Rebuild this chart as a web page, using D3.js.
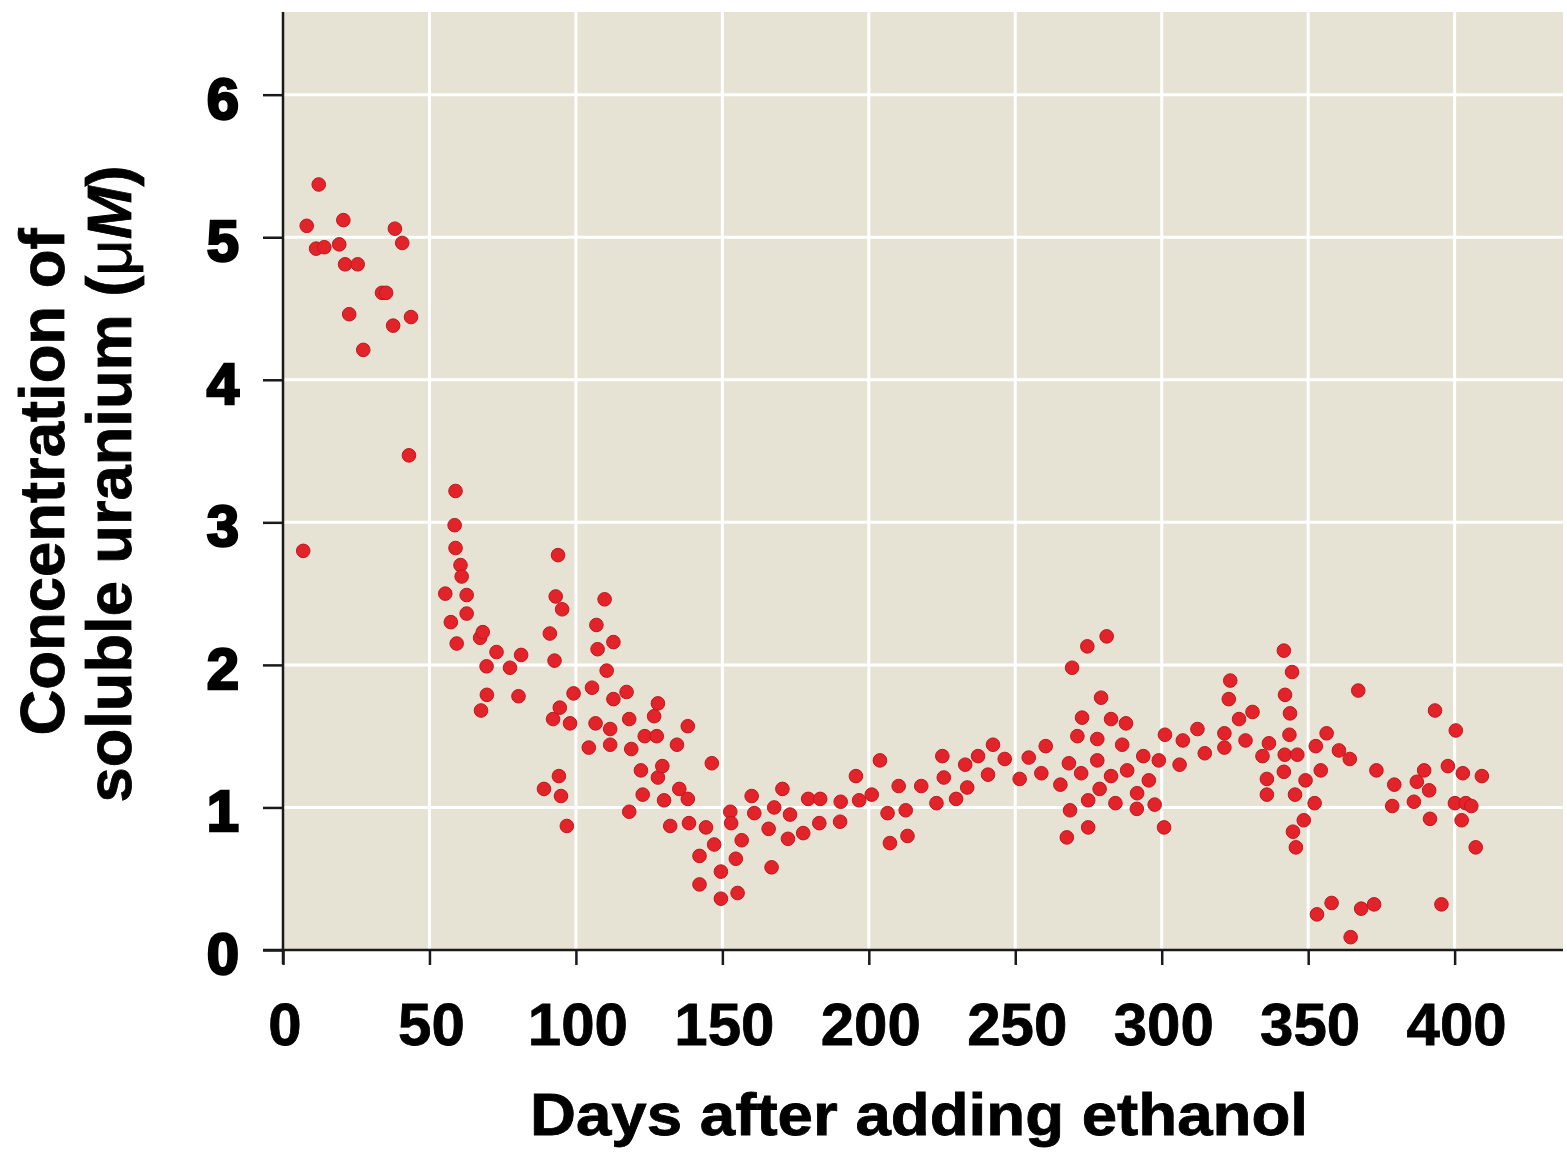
<!DOCTYPE html>
<html>
<head>
<meta charset="utf-8">
<script src="https://cdn.jsdelivr.net/npm/d3@7"></script>
<style>
  html, body { margin: 0; padding: 0; background: #fff; }
  svg text { font-family: "Liberation Sans", Arial, sans-serif; font-weight: bold; fill: #000; }
</style>
</head>
<body>
<svg id="chart" width="1567" height="1154"></svg>
<script>
/// Days after ethanol addition
var days = [
  6.9, 8.1, 11.3, 12.2, 14.1, 19.2, 20.6, 21.2, 22.6, 25.5, 27.4, 33.8, 35.2, 37.6, 38.2, 40.7, 43.0, 43.7,
  55.4, 57.3, 58.6, 58.9, 58.9, 59.3, 60.6, 61.0, 62.7, 62.7, 67.3, 67.6, 68.2, 69.5, 69.6, 72.9, 77.5, 80.4, 81.3,
  89.1, 91.1, 92.2, 92.7, 93.1, 93.9, 94.2, 94.5, 94.9, 95.3, 96.9, 98.0, 99.2,
  104.4, 105.5, 106.7, 107.0, 107.4, 109.8, 110.5, 111.7, 111.7, 112.8, 112.8, 117.3, 118.2, 118.2, 118.9,
  122.2, 122.8, 123.5, 126.7, 127.6, 128.0, 128.0, 129.5, 130.1, 132.2, 134.5, 135.3, 138.2, 138.2, 138.6,
  142.2, 142.2, 144.4, 146.4, 147.2, 149.5, 149.5, 152.7, 153.0, 154.6, 155.2, 156.6,
  160.0, 160.9, 165.8, 166.8, 167.7, 170.5, 172.4, 173.1, 177.6, 179.3, 183.1, 183.4, 190.2, 190.4, 195.6, 196.7,
  201.0, 203.8, 206.4, 207.2, 210.2, 212.6, 213.2, 217.9, 223.1, 225.1, 225.6, 229.8, 232.9, 233.6, 237.3,
  240.7, 242.4, 246.4, 251.5, 254.6, 258.9, 260.4, 265.4, 267.6, 268.3, 268.7, 269.4, 271.2, 272.5, 272.8,
  274.6, 274.9, 274.9, 278.0, 278.0, 278.8, 279.3, 281.2, 282.7, 282.7, 284.2, 286.5, 287.8, 288.2,
  291.5, 291.6, 293.7, 295.6, 297.6, 299.0, 300.8, 301.1, 306.1, 307.2, 312.2, 314.7,
  321.4, 321.4, 322.9, 323.4, 326.4, 328.6, 331.0, 334.4, 335.9, 335.9, 336.6,
  341.7, 341.7, 342.0, 342.1, 343.6, 343.8, 344.5, 344.8, 345.5, 345.8, 346.3, 348.5, 349.1,
  352.2, 352.6, 353.0, 354.3, 356.3, 358.0, 360.5, 364.2, 364.5, 367.1, 368.1, 372.5, 373.3,
  378.7, 379.4, 386.1, 387.1, 389.6, 391.3, 391.6, 393.3, 395.5, 397.7,
  400.1, 400.4, 402.4, 402.8, 403.8, 405.7, 407.2, 409.3
]

/// Soluble uranium (uM), same order as days
var uranium = [
  2.80, 5.08, 4.92, 5.37, 4.93, 4.95, 5.12, 4.81, 4.46, 4.81, 4.21, 4.61, 4.61, 4.38, 5.06, 4.96, 3.47, 4.44,
  2.50, 2.30, 2.98, 3.22, 2.82, 2.15, 2.70, 2.62, 2.49, 2.36, 2.19, 1.68, 2.23, 1.99, 1.79, 2.09, 1.98, 1.78, 2.07,
  1.13, 2.22, 1.62, 2.03, 2.48, 2.77, 1.22, 1.70, 1.08, 2.39, 0.87, 1.59, 1.80,
  1.42, 1.84, 1.59, 2.28, 2.11, 2.46, 1.96, 1.55, 1.44, 2.16, 1.76, 1.81, 1.62, 0.97, 1.41,
  1.26, 1.09, 1.50, 1.64, 1.50, 1.73, 1.21, 1.29, 1.05, 0.87, 1.44, 1.13, 1.57, 1.06, 0.89,
  0.66, 0.46, 0.86, 1.31, 0.74, 0.55, 0.36, 0.97, 0.89, 0.64, 0.40, 0.77,
  1.08, 0.96, 0.85, 0.58, 1.00, 1.13, 0.78, 0.95, 0.82, 1.06, 0.89, 1.06, 0.90, 1.04, 1.22, 1.05,
  1.09, 1.33, 0.96, 0.75, 1.15, 0.98, 0.80, 1.15, 1.03, 1.36, 1.21, 1.06, 1.30, 1.14, 1.36,
  1.23, 1.44, 1.34, 1.20, 1.35, 1.24, 1.43, 1.16, 0.79, 1.31, 0.98, 1.98, 1.50, 1.24, 1.63,
  2.13, 1.05, 0.86, 1.48, 1.33, 1.13, 1.77, 2.20, 1.62, 1.22, 1.03, 1.44, 1.59, 1.26,
  0.99, 1.10, 1.36, 1.19, 1.02, 1.33, 0.86, 1.51, 1.30, 1.47, 1.55, 1.38,
  1.52, 1.42, 1.76, 1.89, 1.62, 1.47, 1.67, 1.36, 1.20, 1.09, 1.45,
  2.10, 1.25, 1.37, 1.79, 1.51, 1.66, 1.95, 0.83, 1.09, 0.72, 1.37, 0.91, 1.19,
  1.03, 1.43, 0.25, 1.26, 1.52, 0.33, 1.40, 1.34, 0.09, 1.82, 0.29, 0.32, 1.26,
  1.01, 1.16, 1.04, 1.18, 1.26, 1.12, 0.92, 1.68, 0.32, 1.29,
  1.03, 1.54, 0.91, 1.24, 1.03, 1.01, 0.72, 1.22
]

var xticks = [0, 50, 100, 150, 200, 250, 300, 350, 400]
var yticks = [0, 1, 2, 3, 4, 5, 6]

var xlabel = "Days after adding ethanol"
var ylabel1 = "Concentration of"
var ylabel2 = "soluble uranium ("  /// followed by mu and italic M

var m = {left: 283, top: 12, right: 1563, bottom: 950}

var x = d3.scaleLinear().domain([0, 437]).range([m.left, m.right])
var y = d3.scaleLinear().domain([0, 6.58]).range([m.bottom, m.top])

var svg = d3.select("#chart")

/// Plot background
svg.append("rect")
    .attr("x", m.left).attr("y", m.top)
    .attr("width", m.right - m.left).attr("height", m.bottom - m.top)
    .attr("fill", "#e6e3d5")

/// White grid lines
svg.append("g").selectAll("line")
    .data(xticks.filter(d => d > 0))
    .enter().append("line")
    .attr("x1", d => x(d)).attr("x2", d => x(d))
    .attr("y1", m.top).attr("y2", m.bottom)
    .attr("stroke", "#fff").attr("stroke-width", 3)

svg.append("g").selectAll("line")
    .data(yticks.filter(d => d > 0))
    .enter().append("line")
    .attr("x1", m.left).attr("x2", m.right)
    .attr("y1", d => y(d)).attr("y2", d => y(d))
    .attr("stroke", "#fff").attr("stroke-width", 3)

/// Axes (d3 axes, restyled)
var xAxis = svg.append("g")
    .attr("transform", "translate(0," + m.bottom + ")")
    .call(d3.axisBottom(x).tickValues(xticks).tickSize(15).tickFormat(""))
var yAxis = svg.append("g")
    .attr("transform", "translate(" + m.left + ",0)")
    .call(d3.axisLeft(y).tickValues(yticks).tickSize(20).tickFormat(""))

xAxis.select(".domain").attr("d", "M" + (m.left - 20) + ",0H" + m.right)
yAxis.select(".domain").attr("d", "M0," + m.top + "V" + (m.bottom + 14))
svg.selectAll(".domain, .tick line")
    .attr("stroke", "#1a1a1a").attr("stroke-width", 2.5)

/// Tick labels
svg.append("g").selectAll("text")
    .data(xticks)
    .enter().append("text")
    .attr("x", d => x(d) + 2)
    .attr("y", 1045)
    .attr("text-anchor", "middle")
    .attr("font-size", 60)
    .attr("stroke", "#000").attr("stroke-width", 0.8)
    .text(d => d)

svg.append("g").selectAll("text")
    .data(yticks)
    .enter().append("text")
    .attr("x", 239)
    .attr("y", d => y(d) + 24)
    .attr("text-anchor", "end")
    .attr("font-size", 58)
    .attr("stroke", "#000").attr("stroke-width", 2.6)
    .text(d => d)

/// Axis titles
svg.append("text")
    .attr("x", 919).attr("y", 1135)
    .attr("text-anchor", "middle")
    .attr("font-size", 60)
    .attr("textLength", 778).attr("lengthAdjust", "spacingAndGlyphs")
    .attr("stroke", "#000").attr("stroke-width", 0.8)
    .text(xlabel)

svg.append("text")
    .attr("transform", "translate(64,482) rotate(-90)")
    .attr("text-anchor", "middle")
    .attr("font-size", 63)
    .attr("textLength", 507).attr("lengthAdjust", "spacingAndGlyphs")
    .attr("stroke", "#000").attr("stroke-width", 0.8)
    .text(ylabel1)

var yl2 = svg.append("text")
    .attr("transform", "translate(131,484) rotate(-90)")
    .attr("text-anchor", "middle")
    .attr("font-size", 63)
    .attr("textLength", 637).attr("lengthAdjust", "spacingAndGlyphs")
    .attr("stroke", "#000").attr("stroke-width", 0.8)
yl2.append("tspan").text(ylabel2)
yl2.append("tspan").attr("font-weight", "normal").text("\u03bc")
yl2.append("tspan").attr("font-style", "italic").text("M")
yl2.append("tspan").text(")")

/// Data points
svg.append("g").selectAll("circle")
    .data(days.map((d, i) => [d, uranium[i]]))
    .enter().append("circle")
    .attr("cx", d => x(d[0]))
    .attr("cy", d => y(d[1]))
    .attr("r", 6.8)
    .attr("fill", "#e2232a")
    .attr("stroke", "#c4161c")
    .attr("stroke-width", 1)
</script>
</body>
</html>
